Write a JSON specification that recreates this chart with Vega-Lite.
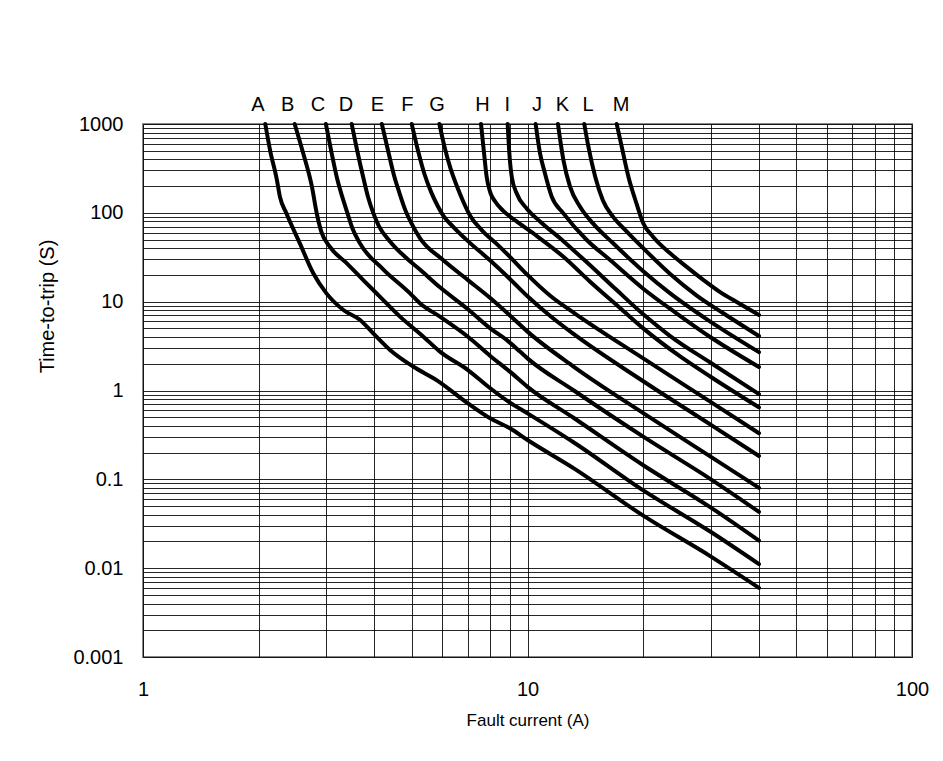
{
  "$schema": "https://vega.github.io/schema/vega-lite/v6.json",
  "width": 769,
  "height": 533,
  "autosize": {"type": "none"},
  "padding": {"left": 143, "top": 124, "right": 31, "bottom": 104},
  "background": "white",
  "datasets": {
    "curves": [
      {"curve": "A", "current": 2.08, "time": 1000}, {"curve": "A", "current": 2.14, "time": 509}, {"curve": "A", "current": 2.23, "time": 234}, {"curve": "A", "current": 2.27, "time": 152}, {"curve": "A", "current": 2.36, "time": 99}, {"curve": "A", "current": 2.56, "time": 45}, {"curve": "A", "current": 2.77, "time": 21}, {"curve": "A", "current": 3.0, "time": 12.4}, {"curve": "A", "current": 3.32, "time": 8.06}, {"curve": "A", "current": 3.67, "time": 6.22}, {"curve": "A", "current": 3.97, "time": 4.4}, {"curve": "A", "current": 4.39, "time": 2.86}, {"curve": "A", "current": 5.05, "time": 1.85}, {"curve": "A", "current": 5.8, "time": 1.31}, {"curve": "A", "current": 7, "time": 0.716}, {"curve": "A", "current": 8, "time": 0.486}, {"curve": "A", "current": 9, "time": 0.375}, {"curve": "A", "current": 10, "time": 0.277}, {"curve": "A", "current": 13.2, "time": 0.133}, {"curve": "A", "current": 20, "time": 0.039}, {"curve": "A", "current": 30, "time": 0.0135}, {"curve": "A", "current": 40, "time": 0.006},
      {"curve": "B", "current": 2.48, "time": 1000}, {"curve": "B", "current": 2.61, "time": 468}, {"curve": "B", "current": 2.75, "time": 197}, {"curve": "B", "current": 2.83, "time": 99}, {"curve": "B", "current": 2.91, "time": 61}, {"curve": "B", "current": 3.06, "time": 41.6}, {"curve": "B", "current": 3.39, "time": 27}, {"curve": "B", "current": 3.74, "time": 17.5}, {"curve": "B", "current": 4.13, "time": 11.4}, {"curve": "B", "current": 4.66, "time": 6.78}, {"curve": "B", "current": 5.36, "time": 4.04}, {"curve": "B", "current": 5.92, "time": 2.74}, {"curve": "B", "current": 7, "time": 1.7}, {"curve": "B", "current": 8, "time": 1.06}, {"curve": "B", "current": 9, "time": 0.73}, {"curve": "B", "current": 10, "time": 0.553}, {"curve": "B", "current": 13.2, "time": 0.26}, {"curve": "B", "current": 20, "time": 0.075}, {"curve": "B", "current": 30, "time": 0.0255}, {"curve": "B", "current": 40, "time": 0.0111},
      {"curve": "C", "current": 2.99, "time": 1000}, {"curve": "C", "current": 3.08, "time": 520}, {"curve": "C", "current": 3.2, "time": 240}, {"curve": "C", "current": 3.3, "time": 150}, {"curve": "C", "current": 3.4, "time": 100}, {"curve": "C", "current": 3.5, "time": 68}, {"curve": "C", "current": 3.67, "time": 45}, {"curve": "C", "current": 4.22, "time": 23}, {"curve": "C", "current": 4.95, "time": 12.4}, {"curve": "C", "current": 5.25, "time": 9.6}, {"curve": "C", "current": 5.92, "time": 6.78}, {"curve": "C", "current": 7, "time": 4.03}, {"curve": "C", "current": 8, "time": 2.45}, {"curve": "C", "current": 9, "time": 1.63}, {"curve": "C", "current": 10, "time": 1.1}, {"curve": "C", "current": 13.2, "time": 0.49}, {"curve": "C", "current": 20, "time": 0.144}, {"curve": "C", "current": 30, "time": 0.048}, {"curve": "C", "current": 40, "time": 0.0204},
      {"curve": "D", "current": 3.49, "time": 1000}, {"curve": "D", "current": 3.6, "time": 520}, {"curve": "D", "current": 3.74, "time": 250}, {"curve": "D", "current": 3.85, "time": 150}, {"curve": "D", "current": 3.97, "time": 100}, {"curve": "D", "current": 4.1, "time": 72}, {"curve": "D", "current": 4.4, "time": 47}, {"curve": "D", "current": 4.8, "time": 32}, {"curve": "D", "current": 5.25, "time": 23}, {"curve": "D", "current": 5.92, "time": 14.5}, {"curve": "D", "current": 7, "time": 8.2}, {"curve": "D", "current": 8, "time": 5.0}, {"curve": "D", "current": 8.9, "time": 3.6}, {"curve": "D", "current": 9.56, "time": 2.74}, {"curve": "D", "current": 10, "time": 2.3}, {"curve": "D", "current": 13.2, "time": 1.0}, {"curve": "D", "current": 20, "time": 0.302}, {"curve": "D", "current": 30, "time": 0.1}, {"curve": "D", "current": 40, "time": 0.043},
      {"curve": "E", "current": 4.18, "time": 1000}, {"curve": "E", "current": 4.33, "time": 520}, {"curve": "E", "current": 4.5, "time": 260}, {"curve": "E", "current": 4.65, "time": 165}, {"curve": "E", "current": 4.8, "time": 110}, {"curve": "E", "current": 5.0, "time": 75}, {"curve": "E", "current": 5.25, "time": 52}, {"curve": "E", "current": 6, "time": 30}, {"curve": "E", "current": 7, "time": 17.5}, {"curve": "E", "current": 8, "time": 11}, {"curve": "E", "current": 9, "time": 7}, {"curve": "E", "current": 10, "time": 4.6}, {"curve": "E", "current": 13.2, "time": 1.85}, {"curve": "E", "current": 20, "time": 0.557}, {"curve": "E", "current": 30, "time": 0.179}, {"curve": "E", "current": 40, "time": 0.08},
      {"curve": "F", "current": 5.0, "time": 1000}, {"curve": "F", "current": 5.18, "time": 520}, {"curve": "F", "current": 5.4, "time": 270}, {"curve": "F", "current": 5.62, "time": 170}, {"curve": "F", "current": 5.85, "time": 118}, {"curve": "F", "current": 6.05, "time": 92}, {"curve": "F", "current": 6.4, "time": 70}, {"curve": "F", "current": 7, "time": 48}, {"curve": "F", "current": 8, "time": 29}, {"curve": "F", "current": 9, "time": 18}, {"curve": "F", "current": 10, "time": 11.5}, {"curve": "F", "current": 11.5, "time": 6.8}, {"curve": "F", "current": 13.2, "time": 4.3}, {"curve": "F", "current": 20, "time": 1.27}, {"curve": "F", "current": 30, "time": 0.41}, {"curve": "F", "current": 40, "time": 0.183},
      {"curve": "G", "current": 5.9, "time": 1000}, {"curve": "G", "current": 6.08, "time": 560}, {"curve": "G", "current": 6.3, "time": 320}, {"curve": "G", "current": 6.55, "time": 200}, {"curve": "G", "current": 6.8, "time": 135}, {"curve": "G", "current": 7.1, "time": 92}, {"curve": "G", "current": 7.6, "time": 64}, {"curve": "G", "current": 8.3, "time": 45}, {"curve": "G", "current": 9, "time": 32}, {"curve": "G", "current": 10, "time": 20}, {"curve": "G", "current": 11.5, "time": 11.5}, {"curve": "G", "current": 13.2, "time": 7.5}, {"curve": "G", "current": 20, "time": 2.3}, {"curve": "G", "current": 30, "time": 0.74}, {"curve": "G", "current": 40, "time": 0.33},
      {"curve": "H", "current": 7.57, "time": 1000}, {"curve": "H", "current": 7.71, "time": 467}, {"curve": "H", "current": 7.83, "time": 255}, {"curve": "H", "current": 8.0, "time": 170}, {"curve": "H", "current": 8.23, "time": 135}, {"curve": "H", "current": 8.65, "time": 105}, {"curve": "H", "current": 9.37, "time": 80}, {"curve": "H", "current": 10.56, "time": 55}, {"curve": "H", "current": 12.4, "time": 32}, {"curve": "H", "current": 14.5, "time": 17}, {"curve": "H", "current": 17.4, "time": 8.5}, {"curve": "H", "current": 20, "time": 5.0}, {"curve": "H", "current": 25, "time": 2.4}, {"curve": "H", "current": 30, "time": 1.42}, {"curve": "H", "current": 40, "time": 0.646},
      {"curve": "I", "current": 8.88, "time": 1000}, {"curve": "I", "current": 8.97, "time": 467}, {"curve": "I", "current": 9.1, "time": 255}, {"curve": "I", "current": 9.37, "time": 166}, {"curve": "I", "current": 9.95, "time": 112}, {"curve": "I", "current": 10.78, "time": 80}, {"curve": "I", "current": 12.4, "time": 48}, {"curve": "I", "current": 14.5, "time": 26}, {"curve": "I", "current": 17.06, "time": 13.5}, {"curve": "I", "current": 20, "time": 7.2}, {"curve": "I", "current": 23.5, "time": 4.1}, {"curve": "I", "current": 30, "time": 2.04}, {"curve": "I", "current": 40, "time": 0.91},
      {"curve": "J", "current": 10.5, "time": 1000}, {"curve": "J", "current": 10.78, "time": 467}, {"curve": "J", "current": 11.1, "time": 279}, {"curve": "J", "current": 11.56, "time": 152}, {"curve": "J", "current": 12.4, "time": 98.7}, {"curve": "J", "current": 14.26, "time": 49.5}, {"curve": "J", "current": 16.4, "time": 29.4}, {"curve": "J", "current": 20, "time": 14}, {"curve": "J", "current": 24.4, "time": 7.4}, {"curve": "J", "current": 29.8, "time": 4.03}, {"curve": "J", "current": 40, "time": 1.84},
      {"curve": "K", "current": 12.0, "time": 1000}, {"curve": "K", "current": 12.4, "time": 393}, {"curve": "K", "current": 12.9, "time": 197}, {"curve": "K", "current": 13.7, "time": 117}, {"curve": "K", "current": 14.8, "time": 76}, {"curve": "K", "current": 16.7, "time": 45.4}, {"curve": "K", "current": 20, "time": 22}, {"curve": "K", "current": 23.5, "time": 12.4}, {"curve": "K", "current": 28.7, "time": 6.7}, {"curve": "K", "current": 40, "time": 2.7},
      {"curve": "L", "current": 14.05, "time": 1000}, {"curve": "L", "current": 14.4, "time": 556}, {"curve": "L", "current": 15.0, "time": 255}, {"curve": "L", "current": 15.7, "time": 139}, {"curve": "L", "current": 16.7, "time": 90}, {"curve": "L", "current": 18.1, "time": 62}, {"curve": "L", "current": 20, "time": 40}, {"curve": "L", "current": 23.5, "time": 20.5}, {"curve": "L", "current": 27.5, "time": 11.8}, {"curve": "L", "current": 32.3, "time": 7.4}, {"curve": "L", "current": 40, "time": 4.1},
      {"curve": "M", "current": 17.06, "time": 1000}, {"curve": "M", "current": 17.58, "time": 556}, {"curve": "M", "current": 18.3, "time": 255}, {"curve": "M", "current": 19.2, "time": 128}, {"curve": "M", "current": 20.0, "time": 76.2}, {"curve": "M", "current": 21.2, "time": 53.9}, {"curve": "M", "current": 23.5, "time": 35}, {"curve": "M", "current": 25.9, "time": 24.8}, {"curve": "M", "current": 28.7, "time": 17.5}, {"curve": "M", "current": 31.7, "time": 12.8}, {"curve": "M", "current": 35, "time": 9.9}, {"curve": "M", "current": 40, "time": 7.08}
    ],
    "labels": [
      {"curve": "A", "current": 1.99, "time": 1000}, {"curve": "B", "current": 2.38, "time": 1000}, {"curve": "C", "current": 2.85, "time": 1000}, {"curve": "D", "current": 3.37, "time": 1000}, {"curve": "E", "current": 4.07, "time": 1000}, {"curve": "F", "current": 4.87, "time": 1000}, {"curve": "G", "current": 5.82, "time": 1000}, {"curve": "H", "current": 7.64, "time": 1000}, {"curve": "I", "current": 8.86, "time": 1000}, {"curve": "J", "current": 10.59, "time": 1000}, {"curve": "K", "current": 12.32, "time": 1000}, {"curve": "L", "current": 14.37, "time": 1000}, {"curve": "M", "current": 17.52, "time": 1000}
    ]
  },
  "layer": [
    {
      "data": {"name": "curves"},
      "mark": {"type": "line", "color": "black", "strokeWidth": 4, "interpolate": "monotone", "strokeCap": "round", "strokeJoin": "round"},
      "encoding": {
        "x": {
          "field": "current", "type": "quantitative",
          "scale": {"type": "log", "domain": [1, 100], "nice": false},
          "axis": {
            "values": [1, 2, 3, 4, 5, 6, 7, 8, 9, 10, 20, 30, 40, 50, 60, 70, 80, 90, 100],
            "labelExpr": "indexof([1, 10, 100], datum.value) >= 0 ? datum.label : ''",
            "format": "~g",
            "title": "Fault current (A)",
            "titleFontSize": 17,
            "labelPadding": 22,
            "titlePadding": 13
          }
        },
        "y": {
          "field": "time", "type": "quantitative",
          "scale": {"type": "log", "domain": [0.001, 1000], "nice": false},
          "axis": {
            "values": [0.001, 0.002, 0.003, 0.004, 0.005, 0.006, 0.007, 0.008, 0.009, 0.01, 0.02, 0.03, 0.04, 0.05, 0.06, 0.07, 0.08, 0.09, 0.1, 0.2, 0.3, 0.4, 0.5, 0.6, 0.7, 0.8, 0.9, 1, 2, 3, 4, 5, 6, 7, 8, 9, 10, 20, 30, 40, 50, 60, 70, 80, 90, 100, 200, 300, 400, 500, 600, 700, 800, 900, 1000],
            "labelExpr": "indexof([0.001, 0.01, 0.1, 1, 10, 100, 1000], datum.value) >= 0 ? datum.label : ''",
            "format": "~g",
            "title": "Time-to-trip (S)",
            "titleFontSize": 20,
            "titleY": 182,
            "labelPadding": 20,
            "titlePadding": 15
          }
        },
        "detail": {"field": "curve"}
      }
    },
    {
      "data": {"name": "labels"},
      "mark": {"type": "text", "fontSize": 20, "baseline": "alphabetic", "align": "center", "dy": -13, "color": "black"},
      "encoding": {
        "x": {"field": "current", "type": "quantitative"},
        "y": {"field": "time", "type": "quantitative"},
        "text": {"field": "curve"}
      }
    }
  ],
  "config": {
    "font": "Liberation Sans",
    "view": {"stroke": "#888888", "strokeWidth": 2, "fill": "white"},
    "axis": {
      "grid": true,
      "gridColor": "black",
      "gridWidth": 1,
      "gridOpacity": 0.85,
      "domain": false,
      "ticks": false,
      "labelFontSize": 20,
      "labelColor": "black",
      "labelFlush": false,
      "labelOverlap": false,
      "titleFontWeight": "normal",
      "titleColor": "black"
    }
  }
}
